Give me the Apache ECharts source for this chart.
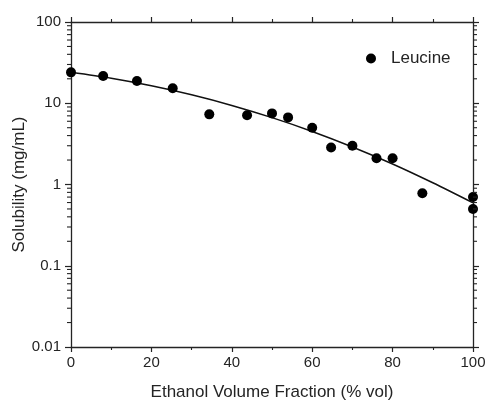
<!DOCTYPE html>
<html>
<head>
<meta charset="utf-8">
<script src="https://cdn.jsdelivr.net/npm/echarts@6/dist/echarts.min.js"></script>
<style>
  html, body { margin: 0; padding: 0; background: #fff; }
  #chart { width: 487px; height: 400px; }
</style>
</head>
<body>
<div id="chart"></div>
<script>
// Measured solubility of leucine in ethanol/water mixtures
const ethanolPct = [0, 8, 16.4, 25.3, 34.4, 43.8, 50, 54, 60, 64.7, 70, 76, 80, 87.4, 100, 100];
const solubility = [24, 21.7, 18.8, 15.3, 7.3, 7.1, 7.5, 6.7, 5.0, 2.85, 3.0, 2.1, 2.1, 0.78, 0.70, 0.50];

// Fitted trend curve, sampled every 10 % vol
const fitPct = [0, 10, 20, 30, 40, 50, 60, 70, 80, 90, 100];
const fitSolubility = [24.0, 20.3, 16.4, 12.7, 9.4, 6.65, 4.5, 2.9, 1.79, 1.05, 0.594];

// Axis ranges and labels
const xTickLabels = ['0', '20', '40', '60', '80', '100'];
const yTickLabels = ['0.01', '0.1', '1', '10', '100'];
const yDecades = [0.01, 0.1, 1, 10];

// Minor tick values 2..9 within each decade of the log axis
const yMinorTicks = [];
yDecades.forEach(d => { for (let k = 2; k <= 9; k++) yMinorTicks.push(+(d * k).toPrecision(3)); });

const FONT = 'Liberation Sans, Arial, sans-serif';
const INK = '#242424';

const chart = echarts.init(document.getElementById('chart'), null, { renderer: 'canvas' });

const xBase = {
  type: 'value', min: 0, max: 100, interval: 20,
  splitLine: { show: false },
  axisLine: { show: true, onZero: false, lineStyle: { color: INK, width: 1.3 } },
  axisTick: { show: true, inside: false, length: 5, lineStyle: { color: INK, width: 1.2 } },
  minorTick: { show: true, splitNumber: 2, length: 3, lineStyle: { color: INK, width: 1.1 } }
};
const yBase = {
  type: 'log', logBase: 10, min: 0.01, max: 100, interval: 1,
  splitLine: { show: false },
  axisLine: { show: true, onZero: false, lineStyle: { color: INK, width: 1.3 } },
  axisTick: { show: true, inside: false, length: 6, lineStyle: { color: INK, width: 1.2 } }
};

chart.setOption({
  animation: false,
  backgroundColor: '#fff',
  grid: { left: 71, right: 14, top: 22, bottom: 53, containLabel: false, outerBoundsMode: 'none' },
  legend: {
    data: [{ name: 'Leucine', icon: 'circle', itemStyle: { color: '#000', opacity: 1 } }],
    left: 361, top: 45,
    itemWidth: 10, itemHeight: 10,
    textStyle: { fontFamily: FONT, fontSize: 17, color: INK, padding: [0, 0, 0, 10] }
  },
  xAxis: [
    Object.assign({}, xBase, {
      position: 'bottom',
      axisLabel: {
        show: true, margin: 8, fontFamily: FONT, fontSize: 15, color: INK,
        formatter: v => xTickLabels[Math.round(v / 20)] ?? ''
      },
      name: 'Ethanol Volume Fraction (% vol)',
      nameLocation: 'middle', nameGap: 37, nameMoveOverlap: false,
      nameTextStyle: { fontFamily: FONT, fontSize: 17, color: INK }
    }),
    Object.assign({}, xBase, { position: 'top', axisLabel: { show: false } })
  ],
  yAxis: [
    Object.assign({}, yBase, {
      position: 'left',
      axisLabel: {
        show: true, margin: 10, fontFamily: FONT, fontSize: 15, color: INK,
        formatter: v => yTickLabels[Math.round(Math.log10(v)) + 2] ?? ''
      },
      name: 'Solubility (mg/mL)',
      nameLocation: 'middle', nameGap: 43, nameMoveOverlap: false,
      nameTextStyle: { fontFamily: FONT, fontSize: 17, color: INK }
    }),
    Object.assign({}, yBase, { position: 'right', axisLabel: { show: false } })
  ],
  series: [
    {
      name: 'fit', type: 'line', xAxisIndex: 0, yAxisIndex: 0,
      data: fitPct.map((x, i) => [x, fitSolubility[i]]),
      smooth: 0.3, showSymbol: false, symbol: 'none',
      lineStyle: { color: '#111', width: 1.5 },
      z: 2, silent: true
    },
    {
      name: 'Leucine', type: 'scatter', xAxisIndex: 0, yAxisIndex: 0,
      data: ethanolPct.map((x, i) => [x, solubility[i]]),
      symbol: 'circle', symbolSize: 10,
      itemStyle: { color: '#000', opacity: 1 },
      z: 3, clip: false
    },
    {
      // logarithmic minor ticks on the left and right axes
      name: 'yMinor', type: 'custom', xAxisIndex: 0, yAxisIndex: 0,
      data: yMinorTicks.map(v => [0, v]),
      clip: false, silent: true, z: 4,
      renderItem: (params, api) => {
        const v = api.value(1);
        const l = api.coord([0, v]);
        const r = api.coord([100, v]);
        const style = { stroke: INK, lineWidth: 1.1 };
        return {
          type: 'group',
          children: [
            { type: 'line', shape: { x1: l[0], y1: l[1], x2: l[0] - 4, y2: l[1] }, style },
            { type: 'line', shape: { x1: r[0], y1: r[1], x2: r[0] + 4, y2: r[1] }, style }
          ]
        };
      }
    }
  ]
});
</script>
</body>
</html>
